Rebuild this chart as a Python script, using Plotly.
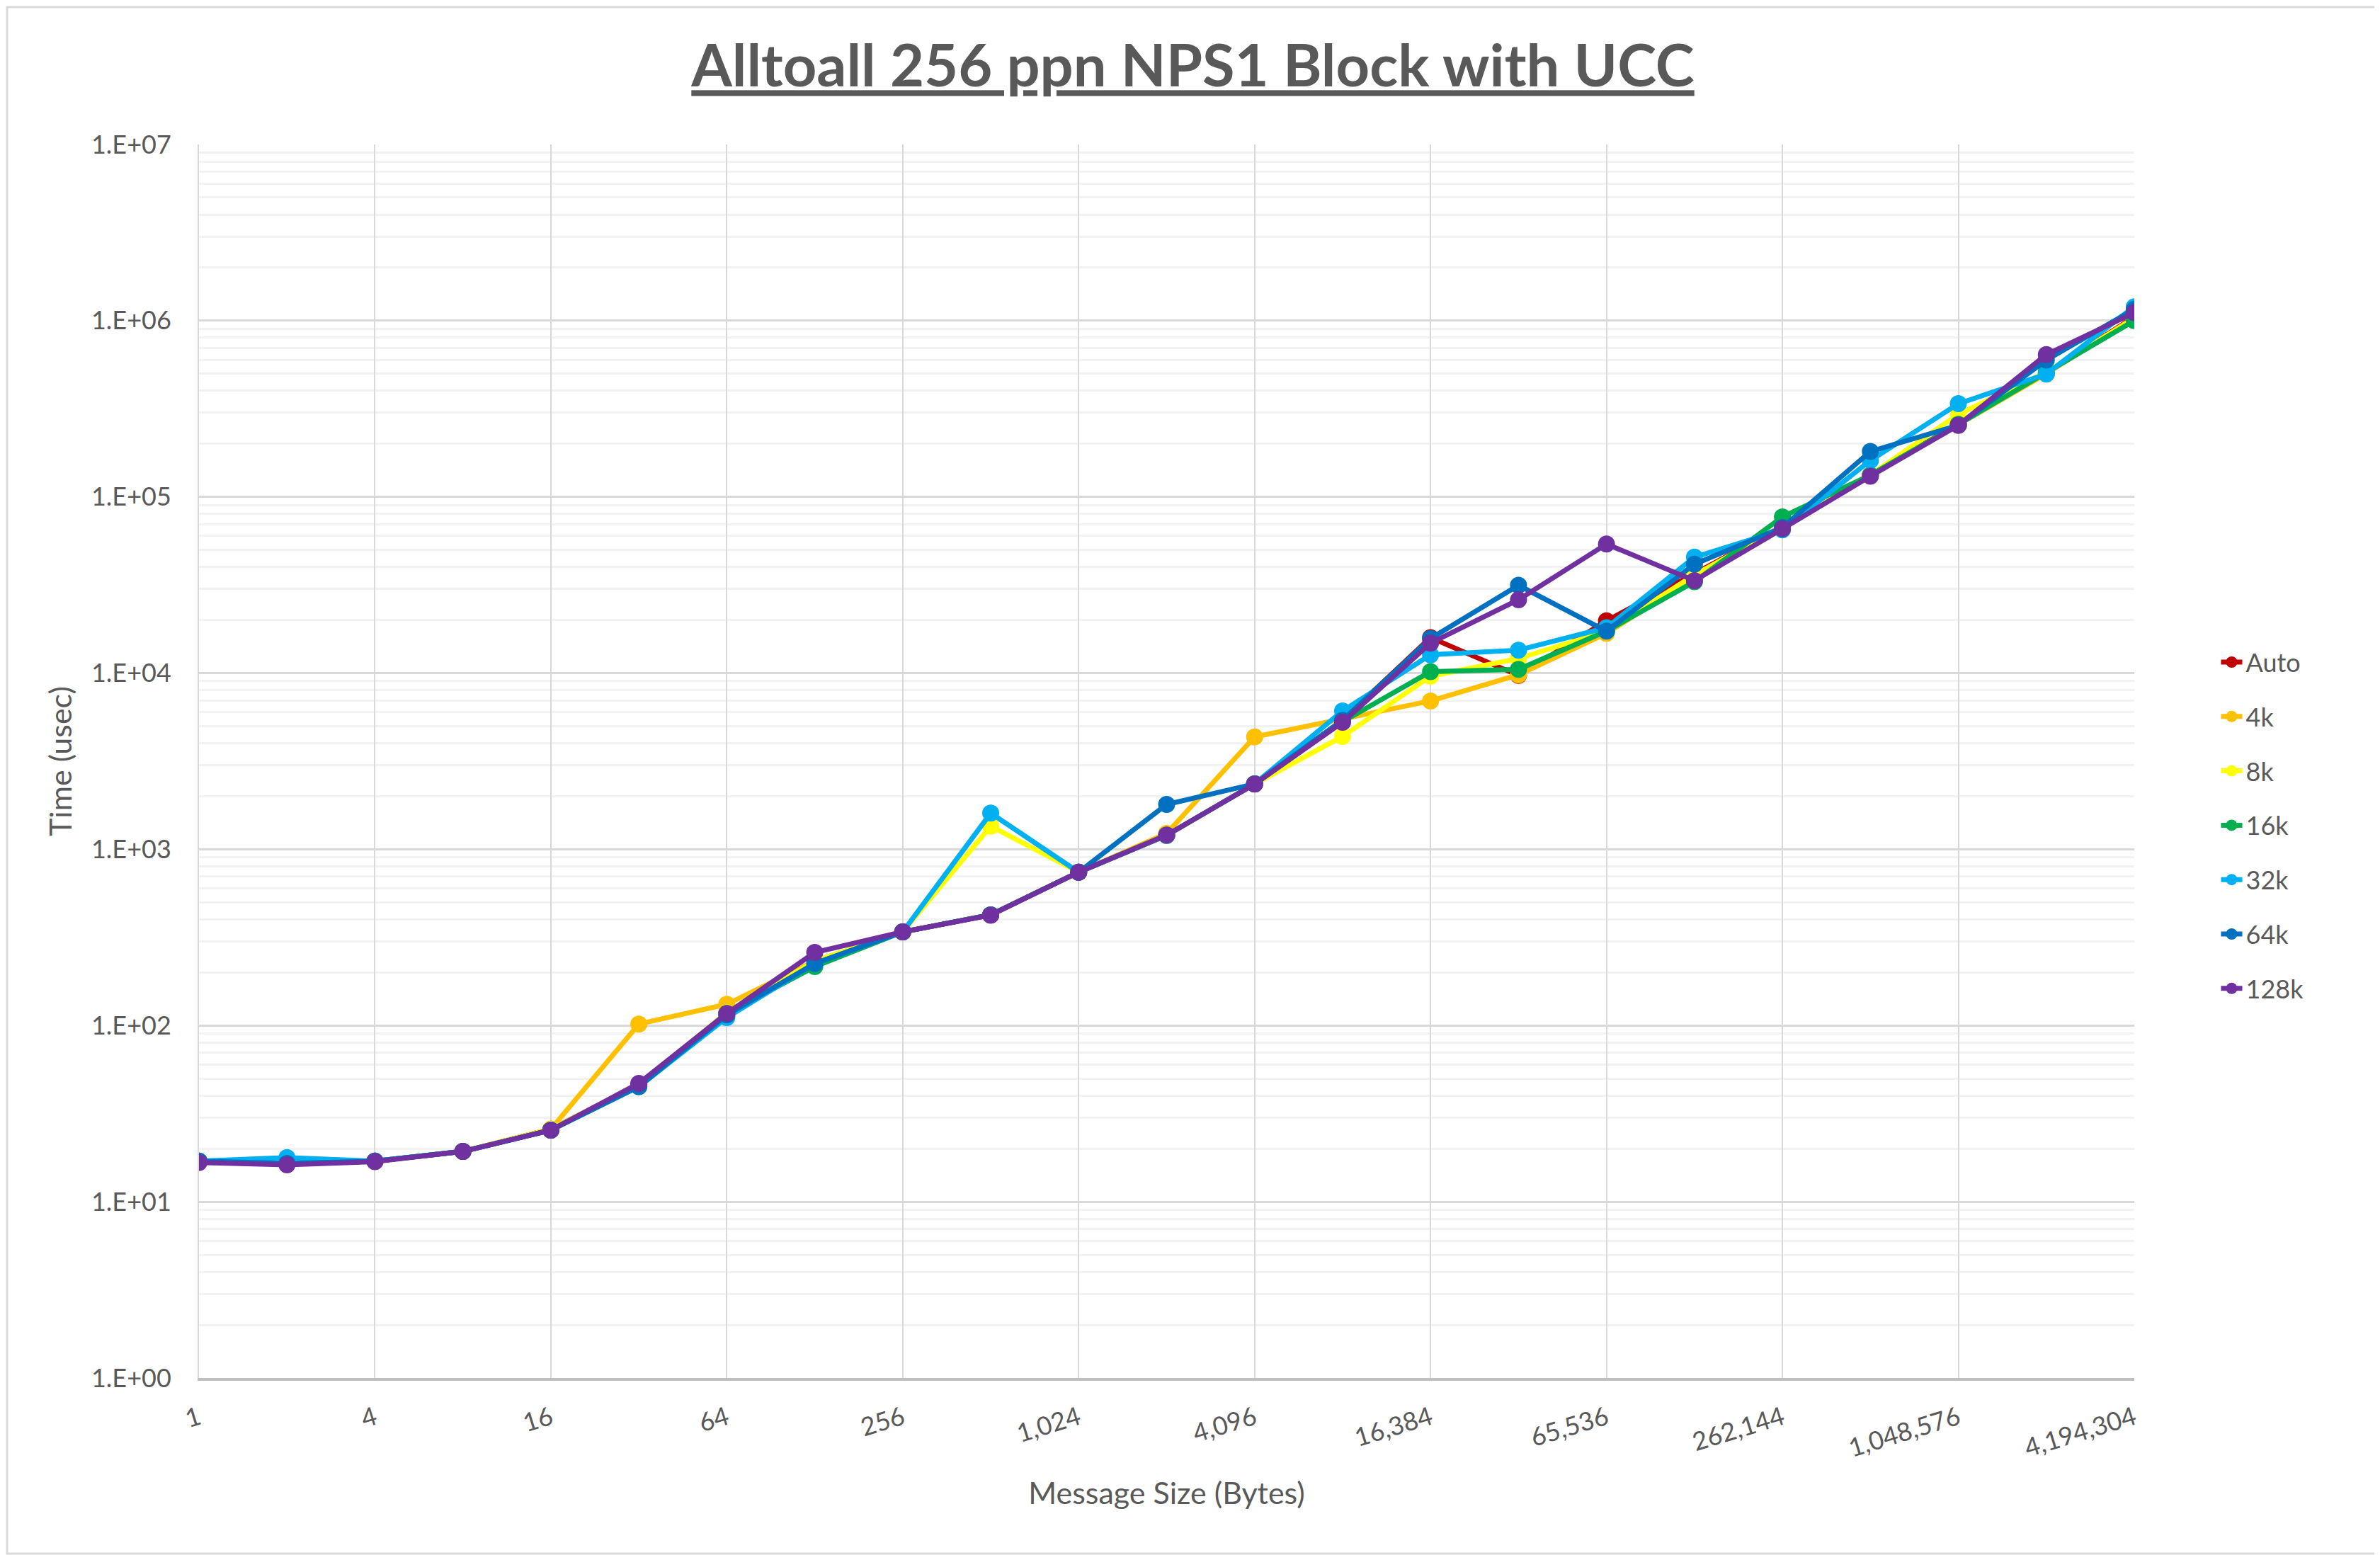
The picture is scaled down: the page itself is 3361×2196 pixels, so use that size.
import plotly.graph_objects as go

# message sizes 1 .. 4 MiB, one point per power of two
msg_sizes = [2 ** i for i in range(23)]

series_names = ["Auto", "4k", "8k", "16k", "32k", "64k", "128k"]
series_colors = ["#C00000", "#FFC000", "#FFFF00", "#00B050", "#00B0F0", "#0070C0", "#7030A0"]

auto_usec = [17, 16.5, 17, 19.3, 25.8, 46, 118, 225, 340, 425, 742, 1200, 2350, 5400,
             15900, 9700, 19800, 37000, 68000, 133000, 258000, 505000, 1050000]
k4_usec = [17, 16.5, 17, 19.3, 25.8, 102, 132, 232, 340, 425, 742, 1230, 4345, 5500,
           6950, 9780, 16800, 35000, 68000, 133000, 255000, 500000, 1040000]
k8_usec = [17, 16.5, 17, 19.3, 25.8, 46, 118, 232, 340, 1354, 742, 1200, 2350, 4375,
           9600, 12100, 17300, 36000, 68000, 133000, 294000, 510000, 1030000]
k16_usec = [17, 16.5, 17, 19.3, 25.5, 46, 117, 216, 340, 425, 742, 1200, 2350, 5300,
            10200, 10500, 17300, 33000, 77000, 133000, 258000, 510000, 1000000]
k32_usec = [17, 17.8, 17, 19.3, 25.5, 45, 111, 225, 340, 1604, 742, 1200, 2350, 6100,
            12700, 13500, 18100, 45500, 65000, 161000, 338000, 498000, 1200000]
k64_usec = [17, 16.5, 17, 19.3, 25.5, 45, 115, 225, 340, 425, 742, 1798, 2350, 5400,
            15700, 31500, 17300, 41500, 67000, 181000, 255000, 598000, 1160000]
k128_usec = [16.7, 16.2, 16.9, 19.3, 25.5, 47, 117, 260, 340, 423, 742, 1205, 2345, 5260,
             14800, 26100, 54000, 33500, 65900, 131000, 255000, 642000, 1110000]

all_series = [auto_usec, k4_usec, k8_usec, k16_usec, k32_usec, k64_usec, k128_usec]

x_tickvals = [4 ** i for i in range(12)]
x_ticktext = ["{:,}".format(v) for v in x_tickvals]
y_tickvals = [10 ** i for i in range(8)]
y_ticktext = ["1.E+%02d" % i for i in range(8)]

FONT = "Lato"
GREY = "#595959"

# page body has an 8px margin, so shrink the figure by that much
W, H = 3353, 2188
ML, MR, MT, MB = 273, 347, 196, 250
PW, PH = W - ML - MR, H - MT - MB

fig = go.Figure()
for name, color, vals in zip(series_names, series_colors, all_series):
    fig.add_trace(go.Scatter(x=msg_sizes, y=vals, name=name, mode="lines+markers",
                             legendgroup=name,
                             line=dict(color=color, width=7),
                             marker=dict(color=color, size=24)))

fig.update_layout(
    width=W, height=H,
    paper_bgcolor="white", plot_bgcolor="white",
    margin=dict(l=ML, r=MR, t=MT, b=MB),
    font=dict(family=FONT, color=GREY, size=36),
    title=dict(text="<b><u>Alltoall 256 ppn NPS1 Block with UCC</u></b>",
               font=dict(family=FONT, size=83, color=GREY),
               x=0.5, xanchor="center", y=0.961, yanchor="middle"),
    legend=dict(x=1.043, xanchor="left", y=0.448, yanchor="middle",
                font=dict(family=FONT, size=36, color=GREY),
                tracegroupgap=27, bgcolor="rgba(0,0,0,0)"),
    showlegend=True,
)

fig.update_xaxes(type="log", range=[0, 22 * 0.30103],
                 tickvals=x_tickvals, ticktext=x_ticktext, tickangle=-17,
                 tickfont=dict(size=36, color=GREY), ticklabelstandoff=18,
                 showgrid=True, gridcolor="#D9D9D9", gridwidth=2,
                 showline=True, linecolor="#BFBFBF", linewidth=4, mirror=False,
                 ticks="", zeroline=False,
                 title=dict(text="Message Size (Bytes)", font=dict(size=43, color=GREY), standoff=30))

fig.update_yaxes(type="log", range=[0, 7],
                 tickvals=y_tickvals, ticktext=y_ticktext,
                 tickfont=dict(size=36, color=GREY), ticklabelstandoff=30,
                 showgrid=True, gridcolor="#D9D9D9", gridwidth=2.5,
                 minor=dict(dtick="D1", showgrid=True, gridcolor="#F2F2F2", gridwidth=2.5),
                 showline=True, linecolor="#D9D9D9", linewidth=2,
                 ticks="", zeroline=False,
                 title=dict(text="Time (usec)", font=dict(size=43, color=GREY), standoff=14))

# light grey chart-area border like the spreadsheet export
fig.add_shape(type="rect", xref="paper", yref="paper",
              x0=-(ML - 2) / PW, x1=(W - ML - 2) / PW, y0=-(MB - 2) / PH, y1=(PH + MT - 2) / PH,
              line=dict(color="#D9D9D9", width=3), layer="below")

fig.write_html("out.html")
